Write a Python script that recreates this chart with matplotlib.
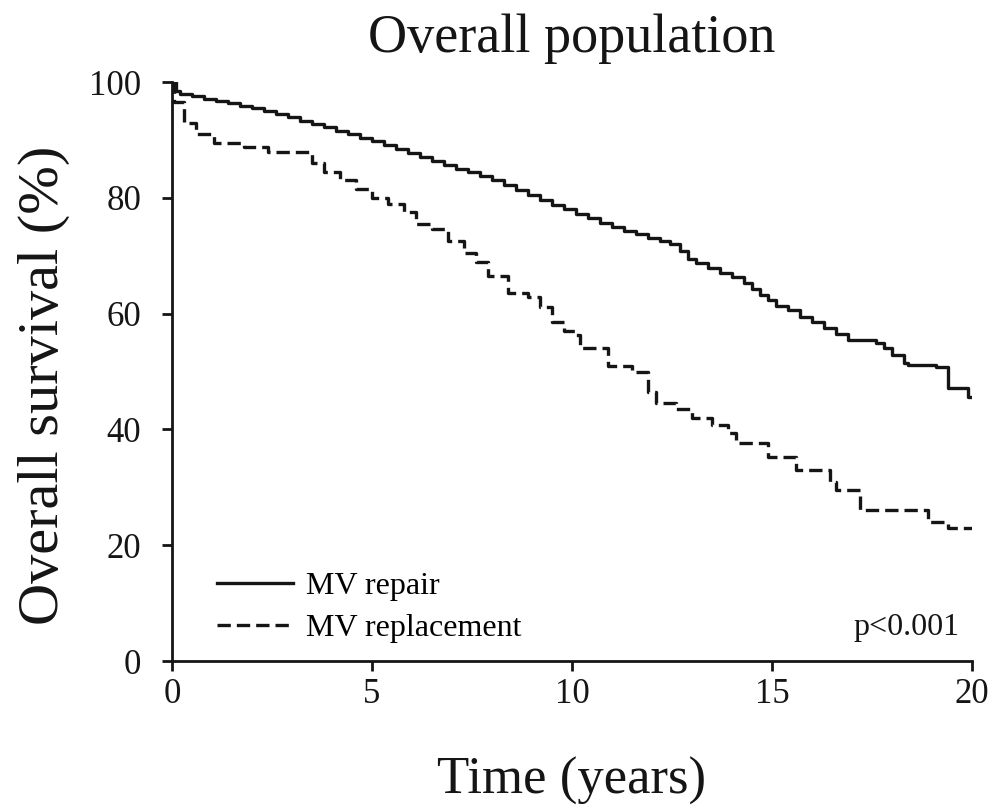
import matplotlib
matplotlib.use("Agg")
import matplotlib.pyplot as plt

plt.rcParams['font.family'] = ['Liberation Serif', 'DejaVu Serif']

# Kaplan-Meier style curves (time in years, survival in %)
repair_t = [0, 0.1, 0.2, 0.5, 0.8, 1.1, 1.4, 1.7, 2.0, 2.3, 2.6, 2.9, 3.2, 3.5,
            3.8, 4.1, 4.4, 4.7, 5.0, 5.3, 5.6, 5.9, 6.2, 6.5, 6.8, 7.1, 7.4, 7.7,
            8.0, 8.3, 8.6, 8.9, 9.2, 9.5, 9.8, 10.1, 10.4, 10.7, 11.0, 11.3,
            11.6, 11.9, 12.2, 12.45, 12.7, 12.9, 13.1, 13.4, 13.7, 14.0, 14.3,
            14.5, 14.7, 14.9, 15.1, 15.4, 15.7, 16.0, 16.3, 16.6, 16.9, 17.6,
            17.8, 18.0, 18.3, 18.4, 19.1, 19.4, 19.9, 20.0]
repair_s = [100, 98.5, 97.9, 97.5, 97.1, 96.7, 96.3, 95.9, 95.5, 95.0, 94.5, 94.0,
            93.3, 92.8, 92.2, 91.6, 91.0, 90.4, 89.8, 89.1, 88.4, 87.7, 87.0,
            86.3, 85.6, 85.0, 84.4, 83.8, 83.0, 82.2, 81.3, 80.5, 79.6, 78.8,
            78.0, 77.2, 76.5, 75.7, 75.0, 74.3, 73.7, 73.0, 72.5, 72.0, 70.8,
            69.5, 68.7, 67.9, 67.0, 66.3, 65.3, 64.2, 63.2, 62.3, 61.3, 60.6,
            59.4, 58.6, 57.6, 56.5, 55.4, 55.0, 54.0, 52.8, 51.5, 51.1, 50.8,
            47.2, 45.6, 45.6]

replace_t = [0, 0.05, 0.3, 0.6, 1.05, 1.8, 2.4, 3.5, 3.8, 4.2, 4.6, 5.0, 5.4, 5.8,
             6.1, 6.5, 6.9, 7.3, 7.6, 7.9, 8.4, 8.9, 9.2, 9.5, 9.8, 10.1, 10.2,
             10.9, 11.5, 11.9, 12.1, 12.6, 13.0, 13.5, 13.9, 14.1, 14.9, 15.6,
             16.45, 16.6, 17.2, 18.9, 19.4, 20.0]
replace_s = [100, 96.5, 93.0, 91.0, 89.5, 88.7, 87.9, 86.0, 84.5, 83.0, 81.5, 80.0,
             79.0, 77.5, 75.5, 74.6, 72.5, 70.5, 69.0, 66.5, 63.5, 62.8, 61.1,
             58.6, 57.0, 56.3, 54.0, 51.0, 49.9, 46.5, 44.5, 43.5, 42.0, 40.8,
             39.4, 37.7, 35.2, 33.0, 30.9, 29.5, 26.1, 24.0, 23.0, 23.0]

x_ticks = [0, 5, 10, 15, 20]
y_ticks = [0, 20, 40, 60, 80, 100]

fig = plt.figure(figsize=(9.97, 8.08), dpi=100)
ax = fig.add_axes([0.1725, 0.1819, 0.8025, 0.7166])

ax.step(repair_t, repair_s, where='post', color='#151515', lw=2.4,
        label='MV repair')
ax.step(replace_t, replace_s, where='post', color='#151515', lw=2.4,
        linestyle=(0, (4, 1.8)), label='MV replacement')

ax.set_xlim(0, 20)
ax.set_ylim(0, 100)
ax.set_xticks(x_ticks)
ax.set_yticks(y_ticks)

for s in ['top', 'right']:
    ax.spines[s].set_visible(False)
for s in ['left', 'bottom']:
    ax.spines[s].set_linewidth(2.0)
    ax.spines[s].set_color('#151515')

ax.tick_params(axis='both', direction='out', length=7, width=2.0,
               labelsize=25, colors='#151515')
ax.tick_params(axis='y', pad=15)
ax.tick_params(axis='x', pad=5)

ax.set_title('Overall population', fontsize=39, y=1.052, pad=0, color='#151515')
ax.set_xlabel('Time (years)', fontsize=38, color='#151515')
ax.set_ylabel('Overall survival (%)', fontsize=42, color='#151515')
ax.xaxis.set_label_coords(0.5, -0.166)
ax.yaxis.set_label_coords(-0.128, 0.477)

ax.legend(loc='center left', bbox_to_anchor=(0.056, 0.093), frameon=False,
          fontsize=23, handlelength=2.4, handletextpad=0.4, labelspacing=0.4,
          borderpad=0, borderaxespad=0)

ax.text(0.984, 0.058, 'p<0.001', transform=ax.transAxes, ha='right',
        va='center', fontsize=23, color='#151515')

fig.savefig('out.png', dpi=100)
